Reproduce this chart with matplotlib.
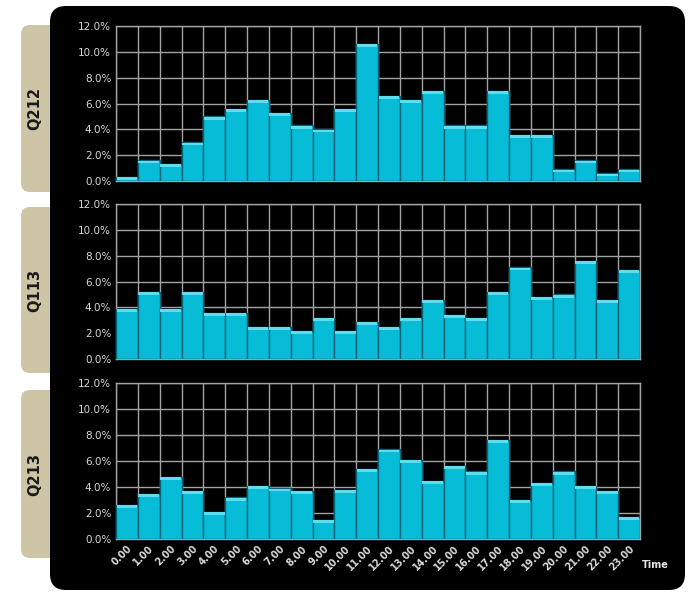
import matplotlib.pyplot as plt
from matplotlib.patches import FancyBboxPatch

hours = [f"{h}.00" for h in range(24)]
quarters = ["Q212", "Q113", "Q213"]

q212 = [0.3, 1.6, 1.3, 3.0, 5.0, 5.6, 6.3, 5.3, 4.3, 4.0, 5.6, 10.6,
        6.6, 6.3, 7.0, 4.3, 4.3, 7.0, 3.6, 3.6, 0.9, 1.6, 0.6, 0.9]
q113 = [3.9, 5.2, 3.9, 5.2, 3.6, 3.6, 2.5, 2.5, 2.2, 3.2, 2.2, 2.9,
        2.5, 3.2, 4.6, 3.4, 3.2, 5.2, 7.1, 4.8, 5.0, 7.6, 4.6, 6.9]
q213 = [2.6, 3.5, 4.8, 3.7, 2.1, 3.2, 4.1, 3.9, 3.7, 1.5, 3.8, 5.4,
        6.9, 6.1, 4.5, 5.6, 5.2, 7.6, 3.0, 4.3, 5.2, 4.1, 3.7, 1.7]
series = [q212, q113, q213]

yticks = [0, 2, 4, 6, 8, 10, 12]

W, H = 689, 606
fig = plt.figure(figsize=(W / 100, H / 100), dpi=100)
fig.patch.set_facecolor("white")

# background layer in pixel units
bg = fig.add_axes([0, 0, 1, 1], zorder=-1)
bg.set_xlim(0, W)
bg.set_ylim(H, 0)
bg.axis("off")

tab_color = "#cdc5a6"
tabs = [(25, 192), (207, 373), (390, 558)]
for (top, bot), name in zip(tabs, quarters):
    bg.add_patch(FancyBboxPatch((21, top), 50, bot - top,
                                boxstyle="round,pad=0,rounding_size=9",
                                fc=tab_color, ec="none"))
    bg.text(35, (top + bot) / 2, name, rotation=90, ha="center", va="center",
            fontsize=10.5, fontweight="bold", color="#1a1a1a")

bg.add_patch(FancyBboxPatch((50, 6), 635, 584,
                            boxstyle="round,pad=0,rounding_size=16",
                            fc="black", ec="none"))
bg.text(655, 565, "Time", ha="center", va="center", fontsize=7,
        fontweight="bold", color="#e6e6e6")

left = 116 / W
width = (640 - 116) / W
panels = [(26, 181), (204, 359), (383, 539)]
x = list(range(24))

for i, ((top, bot), vals) in enumerate(zip(panels, series)):
    ax = fig.add_axes([left, 1 - bot / H, width, (bot - top) / H])
    ax.set_facecolor("black")
    ax.bar(x, vals, width=1.0, color="#06bcd6", edgecolor="#086577",
           linewidth=1.0, zorder=3)
    # lighter cap on each bar
    ax.bar(x, [0.22] * 24, bottom=[v - 0.24 for v in vals], width=0.94,
           color="#5fdcee", edgecolor="none", zorder=4)
    ax.set_xlim(-0.5, 23.5)
    ax.set_ylim(0, 12)
    ax.set_yticks(yticks)
    ax.set_yticklabels([f"{v:.1f}%" for v in yticks])
    ax.set_xticks([v - 0.5 for v in range(25)], minor=True)
    ax.set_xticks(x)
    ax.grid(True, axis="y", color="#a3a3a3", linewidth=1.0, zorder=0)
    ax.grid(True, axis="x", which="minor", color="#a3a3a3", linewidth=1.0, zorder=0)
    ax.grid(False, axis="x", which="major")
    ax.set_axisbelow(True)
    for s in ax.spines.values():
        s.set_color("#a3a3a3")
        s.set_linewidth(1.0)
    ax.tick_params(which="both", length=0, colors="#d8d8d8", labelsize=7.5)
    if i == 2:
        ax.set_xticklabels(hours, rotation=45, ha="right", rotation_mode="anchor",
                           fontsize=7, fontweight="bold")
    else:
        ax.set_xticklabels([])

fig.savefig("out.png", dpi=100)
